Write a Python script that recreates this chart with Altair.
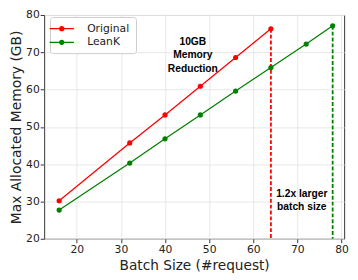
import altair as alt
import pandas as pd

# ---- data ----
series_names = ["Original", "LeanK"]
series_colors = ["#ff0000", "#008000"]

batch_original = [16, 32, 40, 48, 56, 64]
mem_original = [30.2, 45.7, 53.2, 60.9, 68.6, 76.3]

batch_leank = [16, 32, 40, 48, 56, 64, 72, 78]
mem_leank = [27.7, 40.3, 46.8, 53.2, 59.6, 65.9, 72.2, 77.1]

vline_series = ["Original", "LeanK"]
vline_x = [64, 78]
vline_top = [76.3, 77.1]
vline_bottom = [20, 20]

annot_x = [46.3, 71.0]
annot_y = [72.7, 32.0]
annot_text = ["10GB\nMemory\nReduction", "1.2x larger\nbatch size"]

x_ticks = [20, 30, 40, 50, 60, 70, 80]
y_ticks = [20, 30, 40, 50, 60, 70, 80]

# ---- tables ----
df = pd.DataFrame({
    "batch": batch_original + batch_leank,
    "mem": mem_original + mem_leank,
    "series": ["Original"] * len(batch_original) + ["LeanK"] * len(batch_leank),
})
df_rule = pd.DataFrame({"series": vline_series, "x": vline_x, "top": vline_top, "bottom": vline_bottom})
df_text = pd.DataFrame({"x": annot_x, "y": annot_y, "text": annot_text})

color_scale = alt.Scale(domain=series_names, range=series_colors)
x_scale = alt.Scale(domain=[12.6, 80.6], nice=False, zero=False)
y_scale = alt.Scale(domain=[20, 80], nice=False, zero=False)
x_axis = alt.Axis(values=x_ticks, title="Batch Size (#request)", titlePadding=4)
y_axis = alt.Axis(values=y_ticks, title="Max Allocated Memory (GB)", titlePadding=2,
                  titleFontSize=14.2)

# legend glyph: a line with a dot made of concentric stroked rings
legend_path = ("M-2.5,0H2.5 "
               "M-0.1,0A0.1,0.1,0,1,1,0.1,0A0.1,0.1,0,1,1,-0.1,0 "
               "M-0.2,0A0.2,0.2,0,1,1,0.2,0A0.2,0.2,0,1,1,-0.2,0 "
               "M-0.3,0A0.3,0.3,0,1,1,0.3,0A0.3,0.3,0,1,1,-0.3,0 "
               "M-0.4,0A0.4,0.4,0,1,1,0.4,0A0.4,0.4,0,1,1,-0.4,0")

rule_layers = []
for name, col in zip(series_names, series_colors):
    rule_layers.append(
        alt.Chart(df_rule).transform_filter(alt.datum.series == name)
        .mark_rule(strokeDash=[4, 2], strokeWidth=1.8, color=col)
        .encode(x=alt.X("x:Q", scale=x_scale, axis=x_axis),
                y=alt.Y("top:Q", scale=y_scale, axis=y_axis),
                y2="bottom:Q")
    )

lines = alt.Chart(df).mark_line(
    strokeWidth=1.3,
    point=alt.OverlayMarkDef(filled=True, size=28, opacity=1),
).encode(
    x=alt.X("batch:Q", scale=x_scale, axis=x_axis),
    y=alt.Y("mem:Q", scale=y_scale, axis=y_axis),
    color=alt.Color("series:N", scale=color_scale,
                    legend=alt.Legend(orient="none", legendX=6, legendY=2, title=None,
                                      symbolType=legend_path, symbolSize=100,
                                      symbolStrokeWidth=1.3, symbolOpacity=1,
                                      labelFont="DejaVu Sans", labelFontSize=11,
                                      labelColor="#222", labelOffset=20,
                                      rowPadding=3, padding=6,
                                      fillColor="white", strokeColor="#cccccc",
                                      cornerRadius=3)),
)

texts = alt.Chart(df_text).mark_text(
    font="Liberation Sans", fontWeight="bold", fontSize=10.5, lineBreak="\n",
    lineHeight=13.5, align="center", baseline="middle", color="black",
).encode(x=alt.X("x:Q", scale=x_scale, axis=x_axis),
         y=alt.Y("y:Q", scale=y_scale, axis=y_axis), text="text:N")

chart = alt.layer(*rule_layers, lines, texts).properties(
    width=307, height=229, autosize="none",
    padding={"left": 37, "top": 4, "right": 6, "bottom": 38},
).configure_axis(
    grid=True, gridColor="#e6e6e6", gridWidth=1, domain=False,
    tickColor="#333", tickSize=4, labelPadding=1, labelOverlap=False,
    labelFont="DejaVu Sans", labelFontSize=11, labelColor="#222",
    titleFont="DejaVu Sans", titleFontSize=14, titleFontWeight="normal", titleColor="#222",
).configure_view(stroke="#333", strokeWidth=1)

chart.save("out.html", embed_options={"renderer": "svg", "actions": False})
